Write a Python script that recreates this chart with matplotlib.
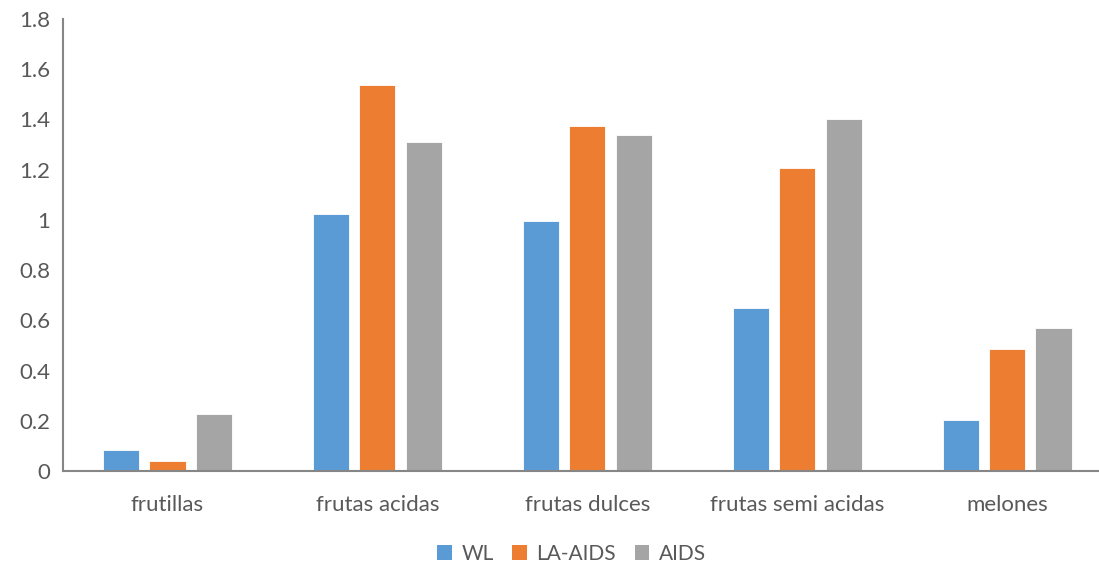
import numpy as np
import matplotlib.pyplot as plt
from matplotlib.patches import Patch

# grupos de fruta y elasticidades por modelo
categories = ["frutillas", "frutas acidas", "frutas dulces", "frutas semi acidas", "melones"]
wl = [0.082, 1.025, 0.996, 0.650, 0.203]
la_aids = [0.039, 1.537, 1.373, 1.208, 0.485]
aids = [0.228, 1.309, 1.338, 1.403, 0.571]
series_names = ["WL", "LA-AIDS", "AIDS"]
yticks = [0, 0.2, 0.4, 0.6, 0.8, 1, 1.2, 1.4, 1.6, 1.8]
ytick_labels = ["0", "0.2", "0.4", "0.6", "0.8", "1", "1.2", "1.4", "1.6", "1.8"]

colors = ["#5B9BD5", "#ED7D31", "#A5A5A5"]
text_color = "#595959"
axis_color = "#868686"

plt.rcParams['font.family'] = ['Lato', 'DejaVu Sans']

fig = plt.figure(figsize=(10.99, 5.64), dpi=100)
ax = fig.add_axes([0.0569, 0.1649, 0.955, 0.8014])

x = np.arange(len(categories))
width = 0.172
step = 0.221
for i, (vals, name) in enumerate(zip([wl, la_aids, aids], series_names)):
    ax.bar(x + (i - 1) * step, vals, width, color=colors[i], label=name,
           edgecolor="white", linewidth=0.6, zorder=2)

ax.set_xlim(-0.5, len(categories) - 0.5)
ax.set_ylim(0, 1.8)
ax.set_yticks(yticks)
ax.set_yticklabels(ytick_labels)
ax.set_xticks(x)
ax.set_xticklabels(categories)

for side in ["top", "right"]:
    ax.spines[side].set_visible(False)
for side in ["left", "bottom"]:
    ax.spines[side].set_color(axis_color)
    ax.spines[side].set_linewidth(1.5)
ax.spines["bottom"].set_zorder(3)

ax.tick_params(axis="both", length=0, labelsize=16, colors=text_color)
ax.tick_params(axis="y", pad=9)
ax.tick_params(axis="x", pad=17)

handles = [Patch(facecolor=c, edgecolor="none") for c in colors]
fig.legend(handles, series_names, loc="center", bbox_to_anchor=(0.52, 0.018),
           ncol=3, frameon=False, fontsize=15, labelcolor=text_color,
           handlelength=0.7, handleheight=0.7, handletextpad=0.45,
           columnspacing=0.9)

fig.savefig("out.png", dpi=100)
